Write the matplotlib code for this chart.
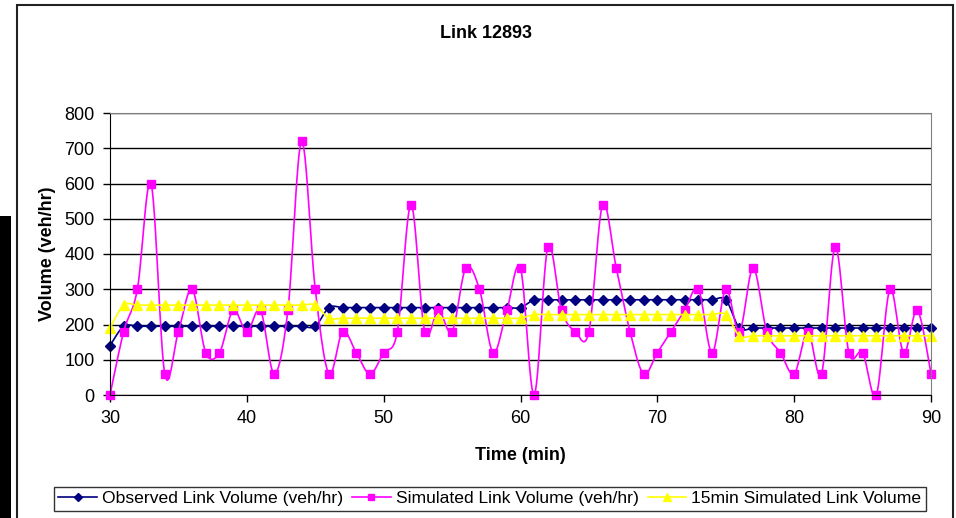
import numpy as np
import matplotlib.pyplot as plt
from matplotlib.patches import Rectangle
from matplotlib.lines import Line2D

plt.rcParams['font.family'] = ['Liberation Sans', 'DejaVu Sans']

minutes = list(range(30, 91))

observed = [140] + [195] * 15 + [248] * 15 + [270] * 15 + [190] * 15

simulated = [
    0, 180, 300, 600, 60, 180, 300, 120, 120, 240,
    180, 240, 60, 240, 720, 300, 60, 180, 120, 60,
    120, 180, 540, 180, 240, 180, 360, 300, 120, 240,
    360, 0, 420, 240, 180, 180, 540, 360, 180, 60,
    120, 180, 240, 300, 120, 300, 180, 360, 180, 120,
    60, 180, 60, 420, 120, 120, 0, 300, 120, 240,
    60,
]

sim_15min = [190] + [255] * 15 + [218] * 15 + [228] * 15 + [168] * 15

series_names = [
    'Observed Link Volume (veh/hr)',
    'Simulated Link Volume (veh/hr)',
    '15min Simulated Link Volume',
]


def smooth(x, y, n=12):
    # Catmull-Rom curve through the points, like a spreadsheet "smoothed line"
    x = np.asarray(x, float)
    y = np.asarray(y, float)
    px = np.concatenate([[x[0]], x, [x[-1]]])
    py = np.concatenate([[y[0]], y, [y[-1]]])
    t = np.linspace(0, 1, n, endpoint=False)
    xs, ys = [], []
    for i in range(1, len(px) - 2):
        for p, out in ((px, xs), (py, ys)):
            p0, p1, p2, p3 = p[i - 1], p[i], p[i + 1], p[i + 2]
            out.extend(0.5 * (2 * p1 + (-p0 + p2) * t
                              + (2 * p0 - 5 * p1 + 4 * p2 - p3) * t ** 2
                              + (-p0 + 3 * p1 - 3 * p2 + p3) * t ** 3))
    xs.append(x[-1])
    ys.append(y[-1])
    return np.array(xs), np.array(ys)


fig = plt.figure(figsize=(9.56, 5.18), dpi=100)
ax = fig.add_axes([110 / 956, 1 - 395 / 518, 821 / 956, 282 / 518])

# outer chart frame and the dark strip at the left edge
fig.patches.append(Rectangle((17 / 956, -0.05), 936 / 956, 1 - 5 / 518 + 0.05,
                             transform=fig.transFigure, fill=False,
                             edgecolor='#222222', linewidth=1.5))
fig.patches.append(Rectangle((0, 0), 11 / 956, 1 - 216 / 518,
                             transform=fig.transFigure, facecolor='black',
                             edgecolor='none'))

styles = [
    dict(color='#000080', marker='D', ms=5.5),
    dict(color='#FF00FF', marker='s', ms=6),
    dict(color='#FFFF00', marker='^', ms=7),
]

handles = []
for vals, st, name in zip([observed, simulated, sim_15min], styles, series_names):
    sx, sy = smooth(minutes, vals)
    ax.plot(sx, sy, color=st['color'], lw=1.2, clip_on=True)
    ax.plot(minutes, vals, ls='none', marker=st['marker'], ms=st['ms'],
            mfc=st['color'], mec=st['color'], clip_on=False)
    handles.append(Line2D([], [], color=st['color'], lw=1.2, marker=st['marker'],
                          ms=st['ms'] - 1, mfc=st['color'], mec=st['color']))

ax.set_xlim(30, 90)
ax.set_ylim(0, 800)
ax.set_xticks(range(30, 91, 10))
ax.set_yticks(range(0, 801, 100))
ax.grid(axis='y', color='black', lw=1)
ax.set_axisbelow(True)
ax.tick_params(labelsize=13, length=5, width=1, color='black', direction='out', pad=6)

ax.spines['left'].set_color('black')
ax.spines['bottom'].set_color('black')
ax.spines['top'].set_color('#808080')
ax.spines['right'].set_color('#808080')

fig.text(486 / 956, 1 - 33 / 518, 'Link 12893', fontsize=13, fontweight='bold',
         ha='center', va='center')

ax.set_xlabel('Time (min)', fontsize=13, fontweight='bold', labelpad=14)
ax.set_ylabel('Volume (veh/hr)', fontsize=13, fontweight='bold', labelpad=6)

leg = fig.legend(handles, series_names, loc='center', ncol=3,
                 bbox_to_anchor=(490 / 956, 1 - 498.5 / 518), fontsize=12.6,
                 frameon=True, fancybox=False, edgecolor='black',
                 handlelength=2.2, handletextpad=0.3, columnspacing=0.5,
                 borderpad=0.25)
leg.get_frame().set_linewidth(1)

fig.savefig('out.png', dpi=100)
